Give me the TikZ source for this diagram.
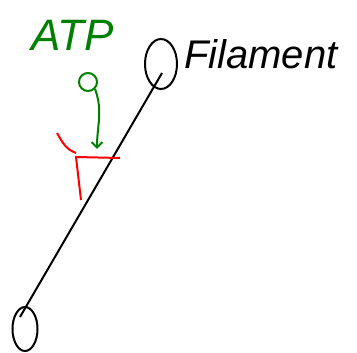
\documentclass[tikz,border=0pt]{standalone}
\usepackage{fontspec}
\setsansfont{Liberation Sans}
\usetikzlibrary{positioning,arrows.meta,shapes.geometric}
\definecolor{sketchgreen}{HTML}{008000}
\definecolor{sketchred}{HTML}{FF0000}

\begin{document}
\begin{tikzpicture}[
        x=1pt, y=-1pt,
        >=Straight Barb,
        every node/.style={font=\sffamily},
        head/.style={draw=black, ellipse, line width=2pt, inner sep=0pt},
        filament/.style={draw=black, line width=2pt},
        marker/.style={draw=sketchred, line width=2pt},
        atpflow/.style={->, draw=sketchgreen, line width=2pt},
        labeltext/.style={font=\sffamily\itshape\fontsize{40}{40}\selectfont, inner sep=0pt}
    ]
        \useasboundingbox (0,0) rectangle (357,353);

        \node[head, minimum width=32pt, minimum height=50pt] (tophead) at (161,64) {};
        \node[head, minimum width=25pt, minimum height=44pt] (bottomhead) at (25,329) {};
        \coordinate (topend) at (162,73);
        \coordinate (bottomend) at (20,317);
        \draw[filament] (topend) -- (bottomend);

        \node[labeltext, anchor=west] (label) at (184,54) {Filament};

        \node[labeltext, text=sketchgreen, font=\sffamily\itshape\fontsize{44}{44}\selectfont] (atp) at (73,35) {ATP};
        \node[draw=sketchgreen, circle, line width=2pt, minimum size=18pt, inner sep=0pt] (atpball) at (88,82) {};
        \coordinate (atptip) at (97,149);
        \draw[atpflow] (atpball.south east) to[out=-70, in=90] (atptip);

        \draw[marker] (57,133) to[out=-60, in=160] (76,153);
        \draw[marker] (81,200) -- (76,157) -- (120,158);
    \end{tikzpicture}
\end{document}
